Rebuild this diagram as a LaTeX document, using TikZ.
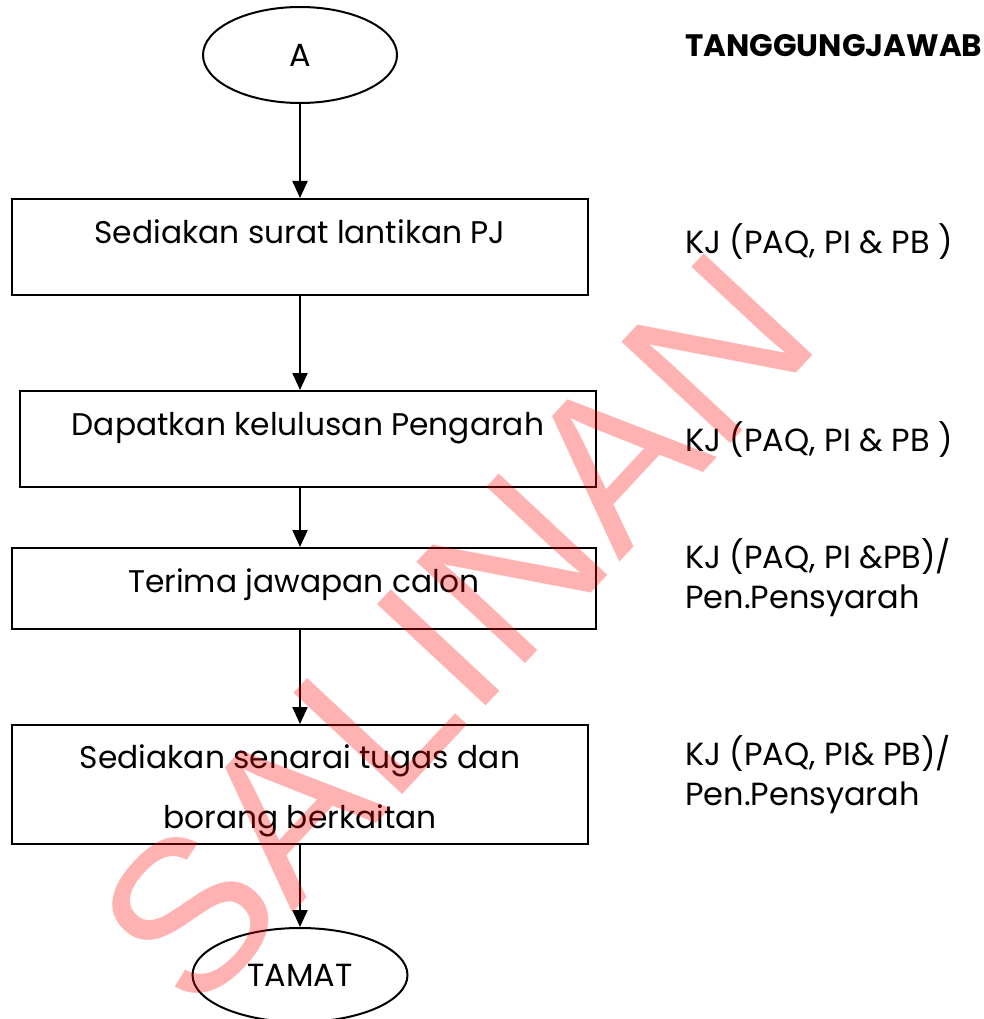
\documentclass[tikz,border=0pt]{standalone}
\usepackage{fontspec}
\setmainfont{Poppins}
\newfontfamily\wmfont{Liberation Sans}
\usetikzlibrary{shapes.geometric,arrows.meta}
\tikzstyle{proc}=[draw, line width=2pt, inner sep=0pt, minimum width=576pt, font=\fontsize{31.3}{60}\selectfont]
\tikzstyle{term}=[draw, ellipse, line width=2pt, inner sep=0pt, font=\fontsize{32}{40}\selectfont]
\tikzstyle{flow}=[line width=2.2pt, -{Triangle[length=17pt,width=15pt]}]
\tikzstyle{resp}=[anchor=base west, inner sep=0pt, font=\fontsize{32}{40}\selectfont]

\begin{document}
\begin{tikzpicture}[x=1pt,y=-1pt]
			\useasboundingbox (0,0) rectangle (984,1019);

			% Flow
			\node[term, minimum width=194pt, minimum height=96pt] (A) at (300,55) {A};
			\node[proc, text height=44pt, text depth=52pt] (s1) at (300,247) {Sediakan surat lantikan PJ};
			\node[proc, text height=44pt, text depth=52pt] (s2) at (308,439) {Dapatkan kelulusan Pengarah};
			\node[proc, minimum width=584pt, text height=44pt, text depth=37pt] (s3) at (304,588.5) {Terima jawapan calon};
			\node[proc, text height=43pt, text depth=76pt] (s4) at (300,784.5) {\begin{tabular}[t]{@{}c@{}}Sediakan senarai tugas dan\\ borang berkaitan\end{tabular}};
			\node[term, minimum width=215pt, minimum height=94pt] (tamat) at (300,975) {TAMAT};

			% Arrows
			\draw[flow] (A) -- (s1);
			\draw[flow] (s1.south) -- (s1.south |- s2.north);
			\draw[flow] (s1.south |- s2.south) -- (s1.south |- s3.north);
			\draw[flow] (s1.south |- s3.south) -- (s4.north);
			\draw[flow] (s4) -- (tamat);

			% Tanggungjawab
			\node[resp, font=\bfseries\fontsize{31}{40}\selectfont] (hdr) at (685,57) {TANGGUNGJAWAB};
			\node[resp] (r1) at (685,253) {KJ (PAQ, PI \& PB )};
			\node[resp] (r2) at (685,451) {KJ (PAQ, PI \& PB )};
			\node[resp] (r3) at (685,568) {\begin{tabular}[t]{@{}l@{}}KJ (PAQ, PI \&PB)/\\ Pen.Pensyarah\end{tabular}};
			\node[resp] (r4) at (685,765) {\begin{tabular}[t]{@{}l@{}}KJ (PAQ, PI\& PB)/\\ Pen.Pensyarah\end{tabular}};

			% Watermark
			\node[font=\wmfont\fontsize{216}{216}\selectfont, text=red, text opacity=0.3, rotate=47, inner sep=0pt] (wm) at (455,630) {SALINAN};
		\end{tikzpicture}
\end{document}
